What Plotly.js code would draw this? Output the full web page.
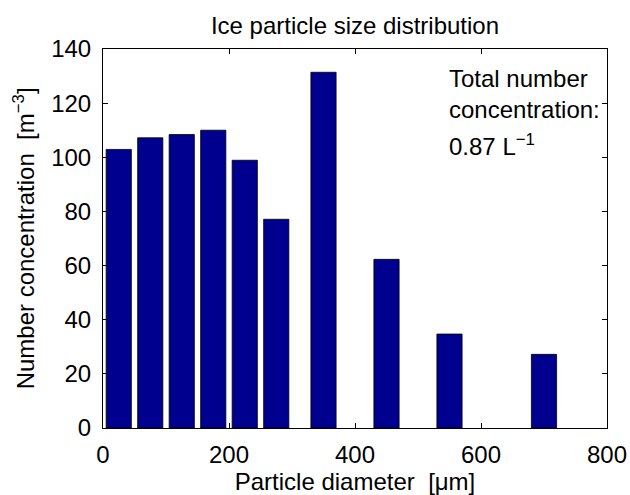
<!DOCTYPE html>
<html>
<head>
<meta charset="utf-8">
<script src="https://cdn.plot.ly/plotly-3.0.1.min.js"></script>
<style>
  html, body { margin: 0; padding: 0; background: #fff; }
  #chart { width: 630px; height: 495px; }
</style>
</head>
<body>
<div id="chart"></div>
<script>
// Bin centres of the particle diameter classes (µm)
const diameters = [25, 75, 125, 175, 225, 275, 350, 450, 550, 700];
// Number concentration per bin (m^-3)
const concentrations = [102.9, 107.2, 108.4, 110.0, 98.9, 77.1, 131.4, 62.3, 34.7, 27.2];
// Axis tick values
const xTicks = [0, 200, 400, 600, 800];
const yTicks = [0, 20, 40, 60, 80, 100, 120, 140];
// Inset note: heading lines and the value line
const totalHeading = 'Total number<br>concentration:';
const totalValue = '0.87 L<sup>−1</sup>';

const FONT = '"Liberation Sans", Arial, Helvetica, sans-serif';
const FS = 24;
const textFont = { family: FONT, size: FS, color: '#000' };

const trace = {
  type: 'bar',
  x: diameters,
  y: concentrations,
  width: 40,
  marker: { color: '#00008F', line: { color: '#000000', width: 0.8 } },
  hoverinfo: 'x+y'
};

const axisCommon = {
  showline: true,
  linecolor: '#000',
  linewidth: 1,
  mirror: 'ticks',
  ticks: 'inside',
  ticklen: 5,
  tickwidth: 1,
  tickcolor: '#000',
  showgrid: false,
  zeroline: false,
  tickfont: textFont,
  fixedrange: true
};

const layout = {
  width: 630,
  height: 495,
  margin: { l: 103, r: 23, t: 49, b: 67 },
  paper_bgcolor: '#fff',
  plot_bgcolor: '#fff',
  font: { family: FONT, color: '#000' },
  showlegend: false,
  title: {
    text: 'Ice particle size distribution',
    font: textFont,
    x: 0.5, xref: 'paper', xanchor: 'center',
    y: 1, yref: 'paper', yanchor: 'bottom',
    pad: { b: 15 }
  },
  xaxis: Object.assign({}, axisCommon, {
    range: [0, 800],
    tickvals: xTicks,
    ticktext: xTicks.map(String),
    ticklabelstandoff: 5,
    title: { text: 'Particle diameter  [μm]', font: textFont, standoff: 2 }
  }),
  yaxis: Object.assign({}, axisCommon, {
    range: [0, 140],
    tickvals: yTicks,
    ticktext: yTicks.map(String),
    ticklabelstandoff: 6
  }),
  annotations: [
    {
      // y-axis label, placed by hand for a tighter gap to the tick labels
      text: 'Number concentration  [m<sup>−3</sup>]',
      xref: 'paper', yref: 'paper',
      x: -0.157, y: 0.5,
      xanchor: 'center', yanchor: 'middle',
      textangle: -90,
      showarrow: false,
      font: textFont
    },
    {
      text: totalHeading,
      xref: 'x', yref: 'y',
      x: 546, y: 135,
      xanchor: 'left', yanchor: 'top',
      align: 'left',
      showarrow: false,
      font: textFont
    },
    {
      text: totalValue,
      xref: 'x', yref: 'y',
      x: 546, y: 111,
      xanchor: 'left', yanchor: 'top',
      align: 'left',
      showarrow: false,
      font: textFont
    }
  ]
};

Plotly.newPlot('chart', [trace], layout, { displayModeBar: false, staticPlot: true });
</script>
</body>
</html>
